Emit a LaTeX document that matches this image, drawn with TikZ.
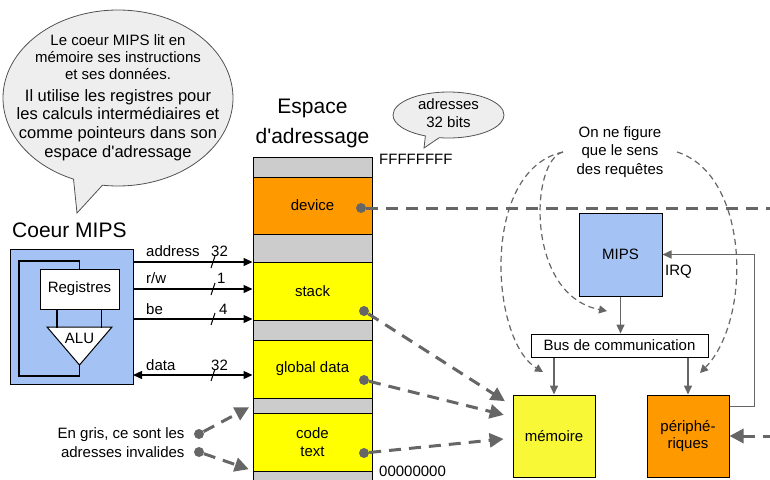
\documentclass[tikz,border=0pt]{standalone}
\usepackage{fontspec}
\setmainfont{Liberation Sans}
\usetikzlibrary{shapes.callouts,arrows.meta}

\definecolor{mipsblue}{HTML}{A4C2F4}
\definecolor{devorange}{HTML}{FF9900}
\definecolor{segyellow}{HTML}{FFFF00}
\definecolor{memyellow}{HTML}{F8F836}
\definecolor{invalid}{HTML}{CCCCCC}
\definecolor{linegray}{HTML}{666666}
\definecolor{bubblegray}{HTML}{EEEEEE}

\begin{document}
\begin{tikzpicture}[
    x=1pt, y=-1pt,
    every node/.style={font=\fontsize{15}{18}\selectfont},
    box/.style={draw, line width=1pt, minimum width=82pt, minimum height=82pt,
                inner sep=0pt, align=center},
    seg/.style={draw, line width=1pt, minimum width=119pt, inner sep=0pt, align=center},
    bubble/.style={ellipse callout, draw=linegray!80!black, fill=bubblegray,
                   line width=0.8pt, inner sep=0pt},
    title/.style={font=\fontsize{21}{30}\selectfont},
    sig/.style={->, >={Triangle[length=9pt,width=8pt]}, line width=1.3pt},
    wire/.style={->, >={Triangle[length=9pt,width=8pt]}, draw=linegray, line width=1.5pt},
    req/.style={draw=linegray, line width=3pt, dash pattern=on 12pt off 8pt,
                >={Triangle[length=14pt,width=14pt]}},
    hint/.style={->, >={Triangle[length=8pt,width=8pt]}, draw=linegray,
                 line width=1.2pt, dash pattern=on 6pt off 4pt},
    dot/.style={circle, fill=linegray, inner sep=0pt, minimum size=10pt}
]
    \clip (0,0) rectangle (770,479);

    % Bulle du coeur
    \node[bubble, minimum width=230pt, minimum height=176pt,
          callout absolute pointer={(77,213)}] (say) at (118,98) {};
    \node[align=center, font=\fontsize{15}{17}\selectfont] (saya) at (118,57)
        {Le coeur MIPS lit en\\mémoire ses instructions\\et ses données.};
    \node[align=center, font=\fontsize{16.5}{18.7}\selectfont] (sayb) at (118,125)
        {Il utilise les registres pour\\les calculs intermédiaires et\\comme pointeurs dans son\\espace d\textquotesingle adressage};

    % Coeur MIPS
    \node[title, anchor=west, inner sep=0pt] (coretitle) at (12,230) {Coeur MIPS};
    \node[draw, fill=mipsblue, line width=1pt, minimum width=123pt,
          minimum height=135pt, inner sep=0pt] (core) at (71.5,316.5) {};
    \node[draw, fill=white, line width=1pt, minimum width=79pt,
          minimum height=40pt, inner sep=0pt] (reg) at (79.5,289) {Registres};
    \draw[fill=white, line width=1pt] (47,327) -- (112,327) -- (79.5,365) -- cycle;
    \node (alu) at (79.5,338) {ALU};
    \coordinate (alutip) at (79.5,365);
    \draw[line width=1.5pt] (reg.south) ++(-22.5,0) -- ++(0,18);
    \draw[line width=1.5pt] (reg.south) ++(22,0) -- ++(0,18);
    \draw[line width=1.5pt] (alutip) -- ++(0,11) -| (19,261) -| (reg.north);

    % Espace d'adressage
    \node[title, align=center] (space) at (312.5,123) {Espace\\d\textquotesingle adressage};
    \node[seg, fill=invalid, minimum height=20pt] (g1) at (312.5,167) {};
    \node[seg, fill=devorange, minimum height=57pt] (dev) at (312.5,205.5) {device};
    \node[seg, fill=invalid, minimum height=28pt] (g2) at (312.5,248) {};
    \node[seg, fill=segyellow, minimum height=58pt] (stk) at (312.5,291) {stack};
    \node[seg, fill=invalid, minimum height=20pt] (g3) at (312.5,330) {};
    \node[seg, fill=segyellow, minimum height=58pt] (glob) at (312.5,369) {global data};
    \node[seg, fill=invalid, minimum height=15pt] (g4) at (312.5,405.5) {};
    \node[seg, fill=segyellow, minimum height=58pt] (code) at (312.5,442)
        {\fontsize{15}{18}\selectfont code\\text};
    \node[seg, fill=invalid, minimum height=20pt] (g5) at (312.5,481) {};
    \node[anchor=west, inner sep=0pt] (top) at (379,159) {FFFFFFFF};
    \node[anchor=west, inner sep=0pt] (bot) at (379,471) {00000000};

    % Bulle adresses
    \node[bubble, minimum width=111pt, minimum height=46pt,
          callout absolute pointer={(424,148)}] (bits) at (448.5,115) {};
    \node[align=center] (bitstext) at (448.5,113) {adresses\\32 bits};

    % Signaux
    \coordinate (sadr) at (133,262);
    \coordinate (srw) at (133,289);
    \coordinate (sbe) at (133,319);
    \coordinate (sdata) at (133,375);
    \draw[sig] (sadr) -- (sadr -| stk.west);
    \draw[sig] (srw) -- (srw -| stk.west);
    \draw[sig] (sbe) -- (sbe -| stk.west);
    \draw[sig, <->] (sdata) -- (sdata -| glob.west);
    \foreach \y in {262,289,319,375}
        \draw[line width=1pt] (211,\y+6) -- (215,\y-6);
    \node[anchor=west, inner sep=0pt] (ladr) at (146,251) {address};
    \node[anchor=west, inner sep=0pt] (lrw) at (146,278) {r/w};
    \node[anchor=west, inner sep=0pt] (lbe) at (146,309) {be};
    \node[anchor=west, inner sep=0pt] (ldata) at (146,365) {data};
    \node[anchor=west, inner sep=0pt] (nadr) at (211,251) {32};
    \node[anchor=west, inner sep=0pt] (nrw) at (217,278) {1};
    \node[anchor=west, inner sep=0pt] (nbe) at (219,309) {4};
    \node[anchor=west, inner sep=0pt] (ndata) at (211,365) {32};

    % Systeme
    \node[box, fill=mipsblue, minimum width=83pt, minimum height=83pt] (mips) at (620.5,254.5) {MIPS};
    \node[anchor=west, inner sep=0pt] (irq) at (665,272) {IRQ};
    \node[draw, fill=white, line width=1pt, minimum width=177pt, minimum height=23pt,
          inner sep=0pt] (bus) at (619.5,345.5) {Bus de communication};
    \node[box, fill=memyellow] (mem) at (554,436) {mémoire};
    \node[box, fill=devorange, font=\fontsize{15}{17}\selectfont] (per) at (688,436) {périphé-\\riques};

    \draw[wire] (mips.south) -- (mips.south |- bus.north);
    \draw[wire] (bus.south -| mem.north) -- (mem.north);
    \draw[wire] (bus.south -| per.north) -- (per.north);
    \draw[wire] ([yshift=-12pt]per.north east) -- ++(25,0) |- (mips.east);

    % Requetes
    \node[dot] (ddev) at (361,208) {};
    \node[dot] (dstk) at (364,311) {};
    \node[dot] (dglob) at (364,380) {};
    \node[dot] (dcode) at (364,453) {};
    \coordinate (east) at (775,208);
    \coordinate (west) at (775,436);
    \draw[req] (ddev) -- (east);
    \draw[req, ->, shorten >=9pt] (dstk) -- ([yshift=30pt]mem.west);
    \draw[req, ->, shorten >=9pt] (dglob) -- ([yshift=19pt]mem.west);
    \draw[req, ->, shorten >=9pt] (dcode) -- ([yshift=-2pt]mem.west);
    \draw[req, ->] (west) -- (per.east);

    % Adresses invalides
    \node[anchor=east, align=right, font=\fontsize{15}{19}\selectfont] (invnote) at (188,443)
        {En gris, ce sont les\\adresses invalides};
    \node[dot] (dinv1) at (199,434) {};
    \node[dot] (dinv2) at (199,452) {};
    \draw[req, ->, shorten >=4pt] (dinv1) -- (g4.west);
    \draw[req, ->, shorten >=4pt] (dinv2) -- (g5.north west);

    % Sens des requetes
    \node[align=center, font=\fontsize{15}{18.5}\selectfont] (note) at (620,152)
        {On ne figure\\que le sens\\des requêtes};
    \coordinate (hl) at (563,152);
    \coordinate (hr) at (677,152);
    \coordinate (hmem) at (543,372);
    \coordinate (hbus) at (607,311);
    \coordinate (hper) at (700,373);
    \draw[hint] (hl) .. controls (480,170) and (490,340) .. (hmem);
    \draw[hint] (hl) .. controls (530,160) and (525,295) .. (hbus);
    \draw[hint] (hr) .. controls (750,175) and (752,320) .. (hper);
\end{tikzpicture}
\end{document}
